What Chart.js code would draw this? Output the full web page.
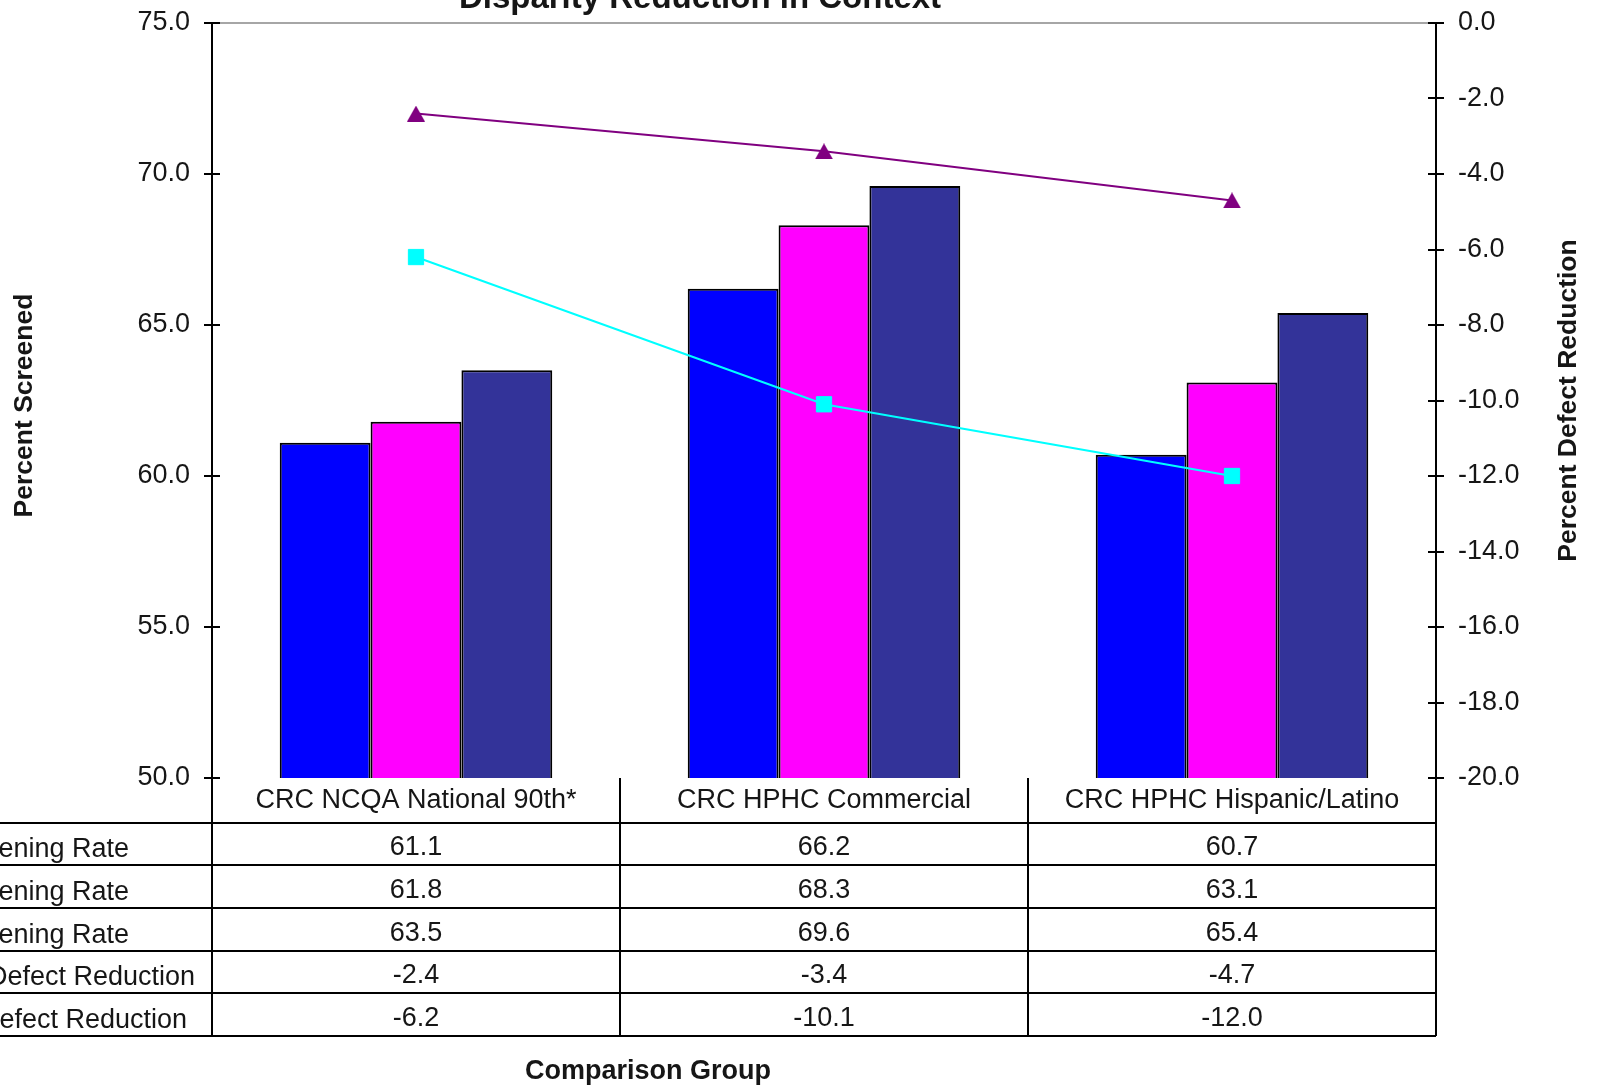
<!DOCTYPE html>
<html>
<head>
<meta charset="utf-8">
<title>Disparity Reduction in Context</title>
<script src="https://cdn.jsdelivr.net/npm/chart.js@4/dist/chart.umd.min.js"></script>
<style>
  html, body { margin: 0; padding: 0; background: #ffffff; overflow: hidden; }
  #wrap { position: relative; width: 1597px; height: 1086px; }
</style>
</head>
<body>
<div id="wrap"><canvas id="chart"></canvas></div>
<script>
// Comparison groups (columns of the data table)
const groups = ['CRC NCQA National 90th*', 'CRC HPHC Commercial', 'CRC HPHC Hispanic/Latino'];

// Screening rates (left axis, percent screened)
const rateA = [61.1, 66.2, 60.7];
const rateB = [61.8, 68.3, 63.1];
const rateC = [63.5, 69.6, 65.4];

// Defect reduction (right axis, percent)
const reductionA = [-2.4, -3.4, -4.7];
const reductionB = [-6.2, -10.1, -12.0];

// Row captions of the data table
const rowLabels = ['ening Rate', 'ening Rate', 'ening Rate', 'Defect Reduction', 'efect Reduction'];

// Axis ranges
const leftAxis = { min: 50, max: 75, step: 5 };
const rightAxis = { min: -20, max: 0, step: 2 };

const FONT = '"Liberation Sans", Arial, Helvetica, sans-serif';
const TEXT = '#161616';

// Triangle marker centred on its bounding box
function triangleMarker(w, h, color) {
  const c = document.createElement('canvas');
  c.width = w; c.height = h;
  const g = c.getContext('2d');
  g.fillStyle = color;
  g.beginPath();
  g.moveTo(w / 2, 0);
  g.lineTo(w, h);
  g.lineTo(0, h);
  g.closePath();
  g.fill();
  return c;
}

// Gray frame line along the top of the plot area
const topBorder = {
  id: 'topBorder',
  beforeDatasetsDraw(chart) {
    const { ctx, chartArea: a } = chart;
    ctx.save();
    ctx.strokeStyle = '#a6a6a6';
    ctx.lineWidth = 2;
    ctx.beginPath();
    ctx.moveTo(a.left, a.top);
    ctx.lineTo(a.right, a.top);
    ctx.stroke();
    ctx.restore();
  }
};

// Tick marks that cross both vertical axes
const crossTicks = {
  id: 'crossTicks',
  afterDraw(chart) {
    const { ctx } = chart;
    ctx.save();
    ctx.strokeStyle = '#000';
    ctx.lineWidth = 2;
    ['y', 'y2'].forEach(id => {
      const s = chart.scales[id];
      const ax = id === 'y' ? s.right : s.left;
      s.ticks.forEach((t, i) => {
        const py = Math.round(s.getPixelForTick(i));
        ctx.beginPath();
        ctx.moveTo(ax - 8, py);
        ctx.lineTo(ax + 8, py);
        ctx.stroke();
      });
    });
    ctx.restore();
  }
};

// Data table under the plot
const dataTable = {
  id: 'dataTable',
  afterDraw(chart) {
    const { ctx, chartArea: a } = chart;
    const x = chart.scales.x;
    const rows = [rateA, rateB, rateC, reductionA, reductionB];
    const n = groups.length;
    const colW = (a.right - a.left) / n;
    const top = a.bottom;
    const headerH = 44.5;
    const rowH = 42.7;
    const bottom = top + headerH + rowH * rows.length;
    const line = (x1, y1, x2, y2) => { ctx.beginPath(); ctx.moveTo(x1, y1); ctx.lineTo(x2, y2); ctx.stroke(); };

    ctx.save();
    ctx.strokeStyle = '#000';
    ctx.lineWidth = 2;
    for (let i = 0; i <= n; i++) {
      const xx = a.left + i * colW;
      line(xx, top, xx, bottom);
    }
    for (let r = 0; r <= rows.length; r++) {
      const yy = Math.round(top + headerH + r * rowH);
      line(0, yy, a.right, yy);
    }

    ctx.fillStyle = TEXT;
    ctx.font = '27px ' + FONT;
    ctx.textAlign = 'center';
    ctx.textBaseline = 'middle';
    groups.forEach((g, i) => ctx.fillText(g, x.getPixelForValue(i), top + headerH / 2));
    rows.forEach((vals, r) => {
      const cy = top + headerH + r * rowH + rowH / 2 + 4;
      vals.forEach((v, i) => ctx.fillText(v.toFixed(1), x.getPixelForValue(i), cy));
    });

    // row captions run off the left edge of the page
    const captionEnds = [129, 129, 129, 195, 187];
    ctx.textAlign = 'right';
    rowLabels.forEach((lab, r) => {
      const cy = top + headerH + r * rowH + rowH / 2 + 6;
      ctx.fillText(lab, captionEnds[r], cy);
    });
    ctx.restore();
  }
};

// Chart title, axis titles and category-axis caption
const captions = {
  id: 'captions',
  afterDraw(chart) {
    const { ctx, chartArea: a } = chart;
    const midY = (a.top + a.bottom) / 2;
    ctx.save();
    ctx.fillStyle = TEXT;

    ctx.font = 'bold 33px ' + FONT;
    ctx.textAlign = 'center';
    ctx.textBaseline = 'alphabetic';
    ctx.fillText('Disparity Reduction in Context', 700, 8);

    ctx.font = 'bold 27px ' + FONT;
    ctx.textBaseline = 'middle';
    ctx.fillText('Comparison Group', 648, 1072);

    ctx.font = 'bold 26.5px ' + FONT;
    ctx.save();
    ctx.translate(25, midY + 5);
    ctx.rotate(-Math.PI / 2);
    ctx.fillText('Percent Screened', 0, 0);
    ctx.restore();

    ctx.save();
    ctx.translate(1569, midY);
    ctx.rotate(-Math.PI / 2);
    ctx.fillText('Percent Defect Reduction', 0, 0);
    ctx.restore();

    ctx.restore();
  }
};

// keep the plot edges where the layout padding puts them
const noLabelOverflow = s => { s.paddingTop = 0; s.paddingBottom = 0; };

const barStyle = { borderColor: '#000', borderWidth: 2, borderSkipped: false, yAxisID: 'y', order: 2 };

new Chart(document.getElementById('chart'), {
  data: {
    labels: groups,
    datasets: [
      { type: 'bar', label: 'Rate A', data: rateA, backgroundColor: '#0000ff', ...barStyle },
      { type: 'bar', label: 'Rate B', data: rateB, backgroundColor: '#ff00ff', ...barStyle },
      { type: 'bar', label: 'Rate C', data: rateC, backgroundColor: '#333399', ...barStyle },
      {
        type: 'line', label: 'Reduction A', data: reductionA, yAxisID: 'y2', order: 1,
        borderColor: '#800080', backgroundColor: '#800080', borderWidth: 2,
        pointStyle: triangleMarker(18, 16, '#800080'), pointRadius: 9
      },
      {
        type: 'line', label: 'Reduction B', data: reductionB, yAxisID: 'y2', order: 0,
        borderColor: '#00ffff', backgroundColor: '#00ffff', borderWidth: 2,
        pointStyle: 'rect', pointRadius: 10.8, pointBorderWidth: 1,
        pointBackgroundColor: '#00ffff', pointBorderColor: '#00ffff'
      }
    ]
  },
  options: {
    responsive: true,
    maintainAspectRatio: false,
    animation: false,
    events: [],
    layout: { padding: { left: 0, right: 0, top: 23, bottom: 308 } },
    datasets: { bar: { categoryPercentage: 0.668, barPercentage: 1.0 } },
    plugins: { legend: { display: false }, title: { display: false }, tooltip: { enabled: false } },
    scales: {
      x: { type: 'category', display: false, offset: true },
      y: {
        type: 'linear', position: 'left',
        min: leftAxis.min, max: leftAxis.max,
        grid: { display: false, drawTicks: false },
        border: { display: true, color: '#000', width: 2 },
        ticks: {
          stepSize: leftAxis.step, padding: 22, color: TEXT,
          font: { family: FONT, size: 27 },
          callback: v => Number(v).toFixed(1)
        },
        afterFit: s => { s.width = 212; noLabelOverflow(s); }
      },
      y2: {
        type: 'linear', position: 'right',
        min: rightAxis.min, max: rightAxis.max,
        grid: { display: false, drawTicks: false },
        border: { display: true, color: '#000', width: 2 },
        ticks: {
          stepSize: rightAxis.step, padding: 22, color: TEXT,
          font: { family: FONT, size: 27 },
          callback: v => Number(v).toFixed(1)
        },
        afterFit: s => { s.width = 161; noLabelOverflow(s); }
      }
    }
  },
  plugins: [topBorder, crossTicks, dataTable, captions]
});
</script>
</body>
</html>
